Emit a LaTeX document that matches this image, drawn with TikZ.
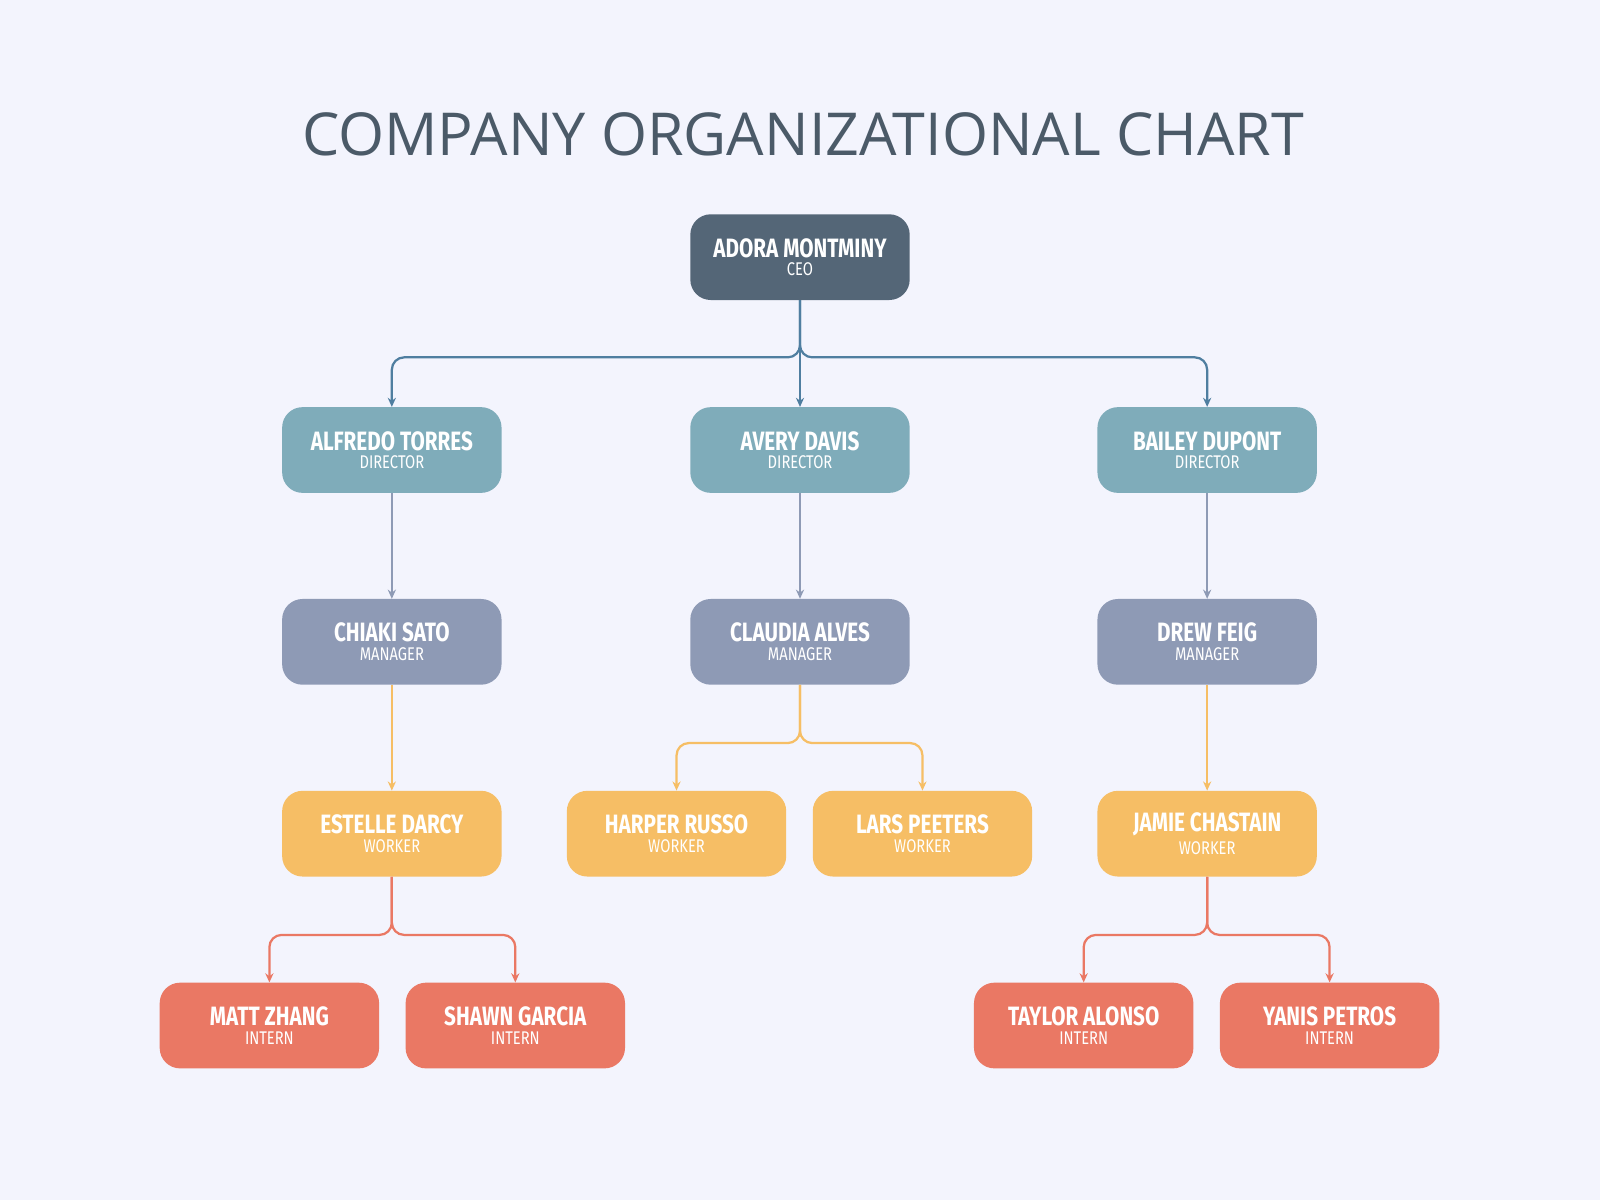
\documentclass[tikz,border=0pt]{standalone}
\usepackage{fontspec}
\setmainfont{Fira Sans}
\newfontfamily\titlefont{Open Sans}
\usetikzlibrary{arrows.meta}
\definecolor{bg}{HTML}{F3F4FD}
\definecolor{ceoc}{HTML}{546677}
\definecolor{dirc}{HTML}{7FACBA}
\definecolor{manc}{HTML}{8E9AB5}
\definecolor{wrkc}{HTML}{F6BE65}
\definecolor{intc}{HTML}{EA7864}
\definecolor{titc}{HTML}{4B5A68}
\definecolor{topl}{HTML}{4F7EA0}
\newcommand{\pp}[2]{{\fontsize{26}{30}\selectfont\bfseries\scalebox{0.78}[1]{#1}}\\[4pt]{\fontsize{18}{20}\selectfont\scalebox{0.8}[1]{#2}}}
\tikzset{
 box/.style={rounded corners=20pt, minimum width=215pt, minimum height=84pt, text=white, align=center, inner sep=0pt, fill=#1},
 arr/.style={draw=#1, line width=2.2pt, rounded corners=12pt, -{Stealth[length=9pt,width=8pt]}},
 ln/.style={draw=#1, line width=2.2pt}
}
\begin{document}
\begin{tikzpicture}[x=1pt,y=-1pt]
\fill[bg] (0,0) rectangle (1568,1176);
\useasboundingbox (0,0) rectangle (1568,1176);
\node[text=titc,font=\titlefont\fontsize{58}{60}\selectfont] (title) at (787,132) {COMPANY ORGANIZATIONAL CHART};
\node[box=ceoc] (ceo) at (784,252) {\pp{ADORA MONTMINY}{CEO}};
\node[box=dirc] (d1) at (384,441) {\pp{ALFREDO TORRES}{DIRECTOR}};
\node[box=dirc] (d2) at (784,441) {\pp{AVERY DAVIS}{DIRECTOR}};
\node[box=dirc] (d3) at (1183,441) {\pp{BAILEY DUPONT}{DIRECTOR}};
\node[box=manc] (m1) at (384,629) {\pp{CHIAKI SATO}{MANAGER}};
\node[box=manc] (m2) at (784,629) {\pp{CLAUDIA ALVES}{MANAGER}};
\node[box=manc] (m3) at (1183,629) {\pp{DREW FEIG}{MANAGER}};
\node[box=wrkc] (w1) at (384,817) {\pp{ESTELLE DARCY}{WORKER}};
\node[box=wrkc] (w2) at (663,817) {\pp{HARPER RUSSO}{WORKER}};
\node[box=wrkc] (w3) at (904,817) {\pp{LARS PEETERS}{WORKER}};
\node[box=wrkc] (w4) at (1183,817) {\pp{JAMIE CHASTAIN}{WORKER}};
\node[box=intc] (i1) at (264,1005) {\pp{MATT ZHANG}{INTERN}};
\node[box=intc] (i2) at (505,1005) {\pp{SHAWN GARCIA}{INTERN}};
\node[box=intc] (i3) at (1062,1005) {\pp{TAYLOR ALONSO}{INTERN}};
\node[box=intc] (i4) at (1303,1005) {\pp{YANIS PETROS}{INTERN}};
% CEO
\draw[arr=topl] (ceo.south) -- ++(0,56) -| (d1.north);
\draw[arr=topl] (ceo.south) -- ++(0,56) -| (d3.north);
\draw[arr=topl] (ceo.south) -- (d2.north);
% directors
\draw[arr=manc] (d1) -- (m1);
\draw[arr=manc] (d2) -- (m2);
\draw[arr=manc] (d3) -- (m3);
% managers
\draw[arr=wrkc] (m1) -- (w1);
\draw[arr=wrkc] (m3) -- (w4);
\draw[arr=wrkc] (m2.south) -- ++(0,57) -| (w2.north);
\draw[arr=wrkc] (m2.south) -- ++(0,57) -| (w3.north);
% workers
\draw[arr=intc] (w1.south) -- ++(0,57) -| (i1.north);
\draw[arr=intc] (w1.south) -- ++(0,57) -| (i2.north);
\draw[arr=intc] (w4.south) -- ++(0,57) -| (i3.north);
\draw[arr=intc] (w4.south) -- ++(0,57) -| (i4.north);
\end{tikzpicture}
\end{document}
